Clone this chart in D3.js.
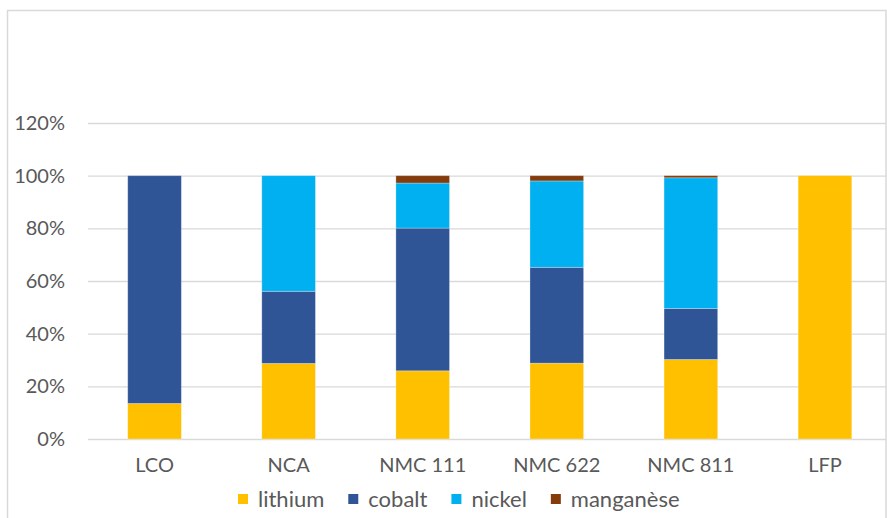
<!DOCTYPE html>
<html>
<head>
<meta charset="utf-8">
<script src="https://cdn.jsdelivr.net/npm/d3@7"></script>
<style>
  html, body { margin: 0; padding: 0; background: #fff; }
  svg { display: block; font-family: Lato, "Open Sans", sans-serif; }
</style>
</head>
<body>
<svg id="chart" width="887" height="518"></svg>
<script>
// Battery chemistries and the share of each metal
const categories = ["LCO", "NCA", "NMC 111", "NMC 622", "NMC 811", "LFP"];
const seriesNames = ["lithium", "cobalt", "nickel", "manganèse"];
const lithium   = [0.135, 0.287, 0.259, 0.288, 0.302, 1.000];
const cobalt    = [0.865, 0.274, 0.542, 0.364, 0.194, 0.000];
const nickel    = [0.000, 0.439, 0.171, 0.328, 0.496, 0.000];
const manganese = [0.000, 0.000, 0.028, 0.020, 0.008, 0.000];
const colors    = ["#FFC000", "#2F5597", "#00B0F0", "#843C0C"];
const yTicks    = [0, 0.2, 0.4, 0.6, 0.8, 1.0, 1.2];

const rows = categories.map((c, i) => ({
  category: c,
  lithium: lithium[i],
  cobalt: cobalt[i],
  nickel: nickel[i],
  "manganèse": manganese[i]
}));

const svg = d3.select("#chart");

// outer frame
svg.append("rect")
  .attr("x", 7.5).attr("y", 10.5)
  .attr("width", 878.5).attr("height", 520)
  .attr("fill", "none").attr("stroke", "#d9d9d9").attr("stroke-width", 1.5);

const x = d3.scaleBand()
  .domain(categories)
  .range([87.5, 892])
  .paddingInner(0.6)
  .paddingOuter(0.3);

const y = d3.scaleLinear().domain([0, 1.2]).range([439, 123]);

// gridlines and tick labels
const yAxis = d3.axisLeft(y)
  .tickValues(yTicks)
  .tickFormat(d3.format(".0%"))
  .tickSize(-(886 - 88))
  .tickPadding(23);

const gy = svg.append("g").attr("transform", "translate(88,0)").call(yAxis);
gy.select(".domain").remove();
gy.selectAll(".tick line").attr("stroke", "#d9d9d9").attr("stroke-width", 1.3);
gy.selectAll(".tick text")
  .attr("fill", "#595959")
  .style("font-size", "20px")
  .style("font-family", "Lato, 'Open Sans', sans-serif");

// stacked bars
const stack = d3.stack().keys(seriesNames);
const layers = stack(rows);

svg.append("g").selectAll("g")
  .data(layers)
  .join("g")
  .attr("fill", (d, i) => colors[i])
  .selectAll("rect")
  .data(d => d)
  .join("rect")
  .attr("x", d => x(d.data.category))
  .attr("width", x.bandwidth())
  .attr("y", d => y(d[1]))
  .attr("height", d => Math.max(0, y(d[0]) - y(d[1])))
  .attr("stroke", "#ffffff")
  .attr("stroke-opacity", 0.35)
  .attr("stroke-width", 0.8);

// category axis labels
const xAxis = d3.axisBottom(x).tickSize(0).tickPadding(19);
const gx = svg.append("g").attr("transform", "translate(0,439)").call(xAxis);
gx.select(".domain").remove();
gx.selectAll(".tick text")
  .attr("fill", "#595959")
  .style("font-size", "20px")
  .style("font-family", "Lato, 'Open Sans', sans-serif");

// legend
const legend = svg.append("g").attr("transform", "translate(238,499)");
let cx = 0;
seriesNames.forEach((name, i) => {
  const item = legend.append("g").attr("transform", `translate(${cx},0)`);
  item.append("rect")
    .attr("x", 0).attr("y", -5)
    .attr("width", 10).attr("height", 10)
    .attr("fill", colors[i]);
  const t = item.append("text")
    .attr("x", 20).attr("y", 0)
    .attr("dy", "0.35em")
    .attr("fill", "#595959")
    .style("font-size", "22px")
    .text(name);
  cx += 20 + t.node().getComputedTextLength() + 24;
});
</script>
</body>
</html>
